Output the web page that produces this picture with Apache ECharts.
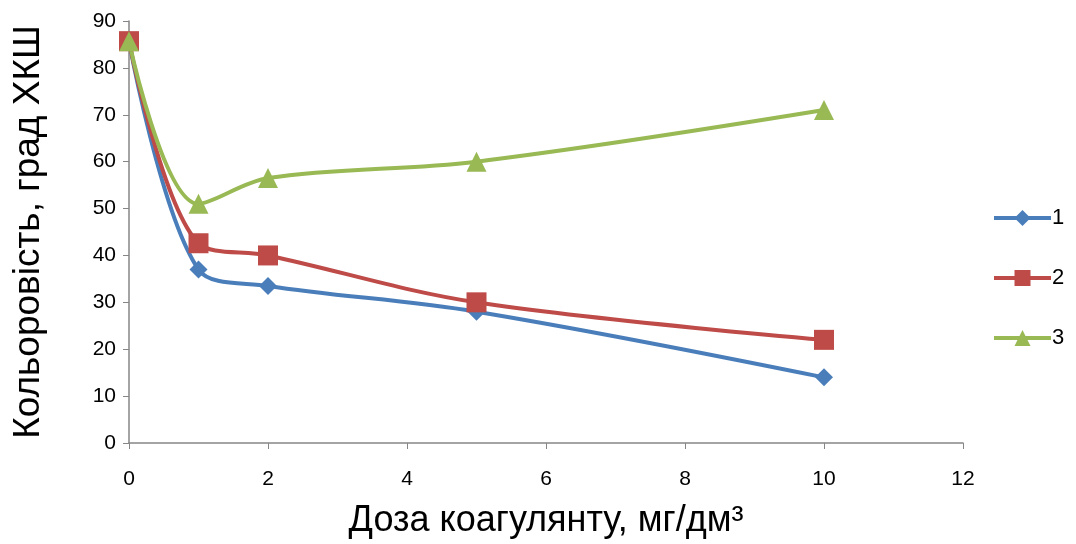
<!DOCTYPE html>
<html><head><meta charset="utf-8">
<script src="https://cdn.jsdelivr.net/npm/echarts@6/dist/echarts.min.js"></script>
<style>html,body{margin:0;padding:0;background:#fff}#c{width:1076px;height:544px}</style>
</head><body><div id="c"></div>
<script>
const xValues = [0, 1, 2, 5, 10];
const series1 = [85.7, 37, 33.5, 28, 14];
const series2 = [85.7, 42.6, 40, 30, 22];
const series3 = [85.7, 51, 56.5, 60, 71];
const seriesNames = ['1', '2', '3'];
const colors = ['#4A7EBB', '#BE4B48', '#98B954'];
const xTitle = 'Доза коагулянту, мг/дм³';
const yTitle = 'Кольоровість, град ХКШ';

const sans = "'Liberation Sans', Arial, sans-serif";
const chart = echarts.init(document.getElementById('c'));
const pairs = arr => xValues.map((x, i) => [x, arr[i]]);
const symbols = ['diamond', 'rect', 'triangle'];
const sizes = [18, 20, 20];
const datas = [series1, series2, series3];
chart.setOption({
  animation: false,
  grid: {left: 129, right: 113, top: 21, bottom: 101, outerBoundsMode: 'none', containLabel: false},
  legend: {
    orient: 'vertical', left: 987, top: 202, itemGap: 38,
    itemWidth: 57, itemHeight: 20,
    lineStyle: {width: 4},
    textStyle: {fontFamily: sans, fontSize: 22, color: '#000', padding: [0, 0, 0, -4]},
    data: seriesNames
  },
  xAxis: {
    type: 'value', min: 0, max: 12, interval: 2,
    name: xTitle, nameLocation: 'middle', nameGap: 60,
    nameTextStyle: {fontFamily: sans, fontSize: 36, color: '#000'},
    axisLine: {lineStyle: {color: '#868686', width: 1.5}},
    axisTick: {show: true, length: 6, lineStyle: {color: '#868686'}},
    axisLabel: {fontFamily: sans, fontSize: 21, color: '#000', margin: 26},
    splitLine: {show: false}
  },
  yAxis: {
    type: 'value', min: 0, max: 90, interval: 10,
    name: yTitle, nameLocation: 'middle', nameGap: 82,
    nameTextStyle: {fontFamily: sans, fontSize: 37, color: '#000'},
    axisLine: {show: true, lineStyle: {color: '#868686', width: 1.5}},
    axisTick: {show: true, length: 6, lineStyle: {color: '#868686'}},
    axisLabel: {fontFamily: sans, fontSize: 21, color: '#000', margin: 13},
    splitLine: {show: false}
  },
  series: seriesNames.map((n, i) => ({
    name: n, type: 'line', smooth: 0.35,
    data: pairs(datas[i]),
    symbol: symbols[i], symbolSize: sizes[i],
    lineStyle: {color: colors[i], width: 4},
    itemStyle: {color: colors[i]},
    z: 2
  }))
});
</script></body></html>
